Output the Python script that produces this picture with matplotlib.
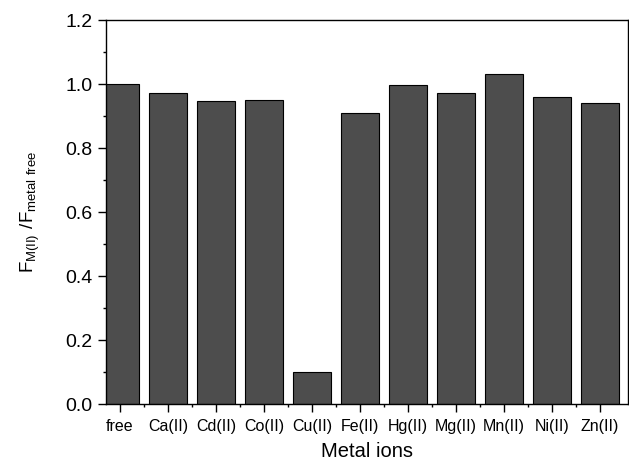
import matplotlib
matplotlib.use('Agg')
import matplotlib.pyplot as plt
from matplotlib.ticker import MultipleLocator, FormatStrFormatter

plt.rcParams['font.family'] = ['Liberation Sans', 'DejaVu Sans']
plt.rcParams['mathtext.default'] = 'regular'

# datos
iones = ['free', 'Ca(II)', 'Cd(II)', 'Co(II)', 'Cu(II)', 'Fe(II)',
         'Hg(II)', 'Mg(II)', 'Mn(II)', 'Ni(II)', 'Zn(II)']
valores = [1.0, 0.973, 0.946, 0.950, 0.100, 0.910,
           0.996, 0.971, 1.032, 0.960, 0.941]

fig = plt.figure(figsize=(6.29, 4.63), dpi=100)
ax = fig.add_axes([0.1685, 0.1274, 0.8295, 0.8294])

x = list(range(len(iones)))
ax.bar(x, valores, width=0.79, color='#4d4d4d', edgecolor='black', linewidth=0.8)

ax.set_xlim(-0.29, len(iones) - 1 + 0.58)
ax.set_ylim(0, 1.2)

ax.set_xticks(x)
ax.set_xticklabels(iones, fontsize=11.5)
ax.set_xticks([i + 0.5 for i in x[:-1]], minor=True)
ax.yaxis.set_major_locator(MultipleLocator(0.2))
ax.yaxis.set_minor_locator(MultipleLocator(0.1))
ax.yaxis.set_major_formatter(FormatStrFormatter('%.1f'))
ax.tick_params(axis='y', labelsize=14, pad=4)
ax.tick_params(axis='x', pad=5)
ax.tick_params(which='major', direction='out', length=5.5, width=1)
ax.tick_params(which='minor', direction='out', length=2.5, width=1)
ax.tick_params(top=False, right=False)

for s in ax.spines.values():
    s.set_linewidth(1)

ax.set_xlabel('Metal ions', fontsize=14.5, labelpad=6)
ax.set_ylabel(r'$F_{M(II)}\ /F_{metal\ free}$', fontsize=13.5, labelpad=17)

fig.savefig('out.png', dpi=100)
